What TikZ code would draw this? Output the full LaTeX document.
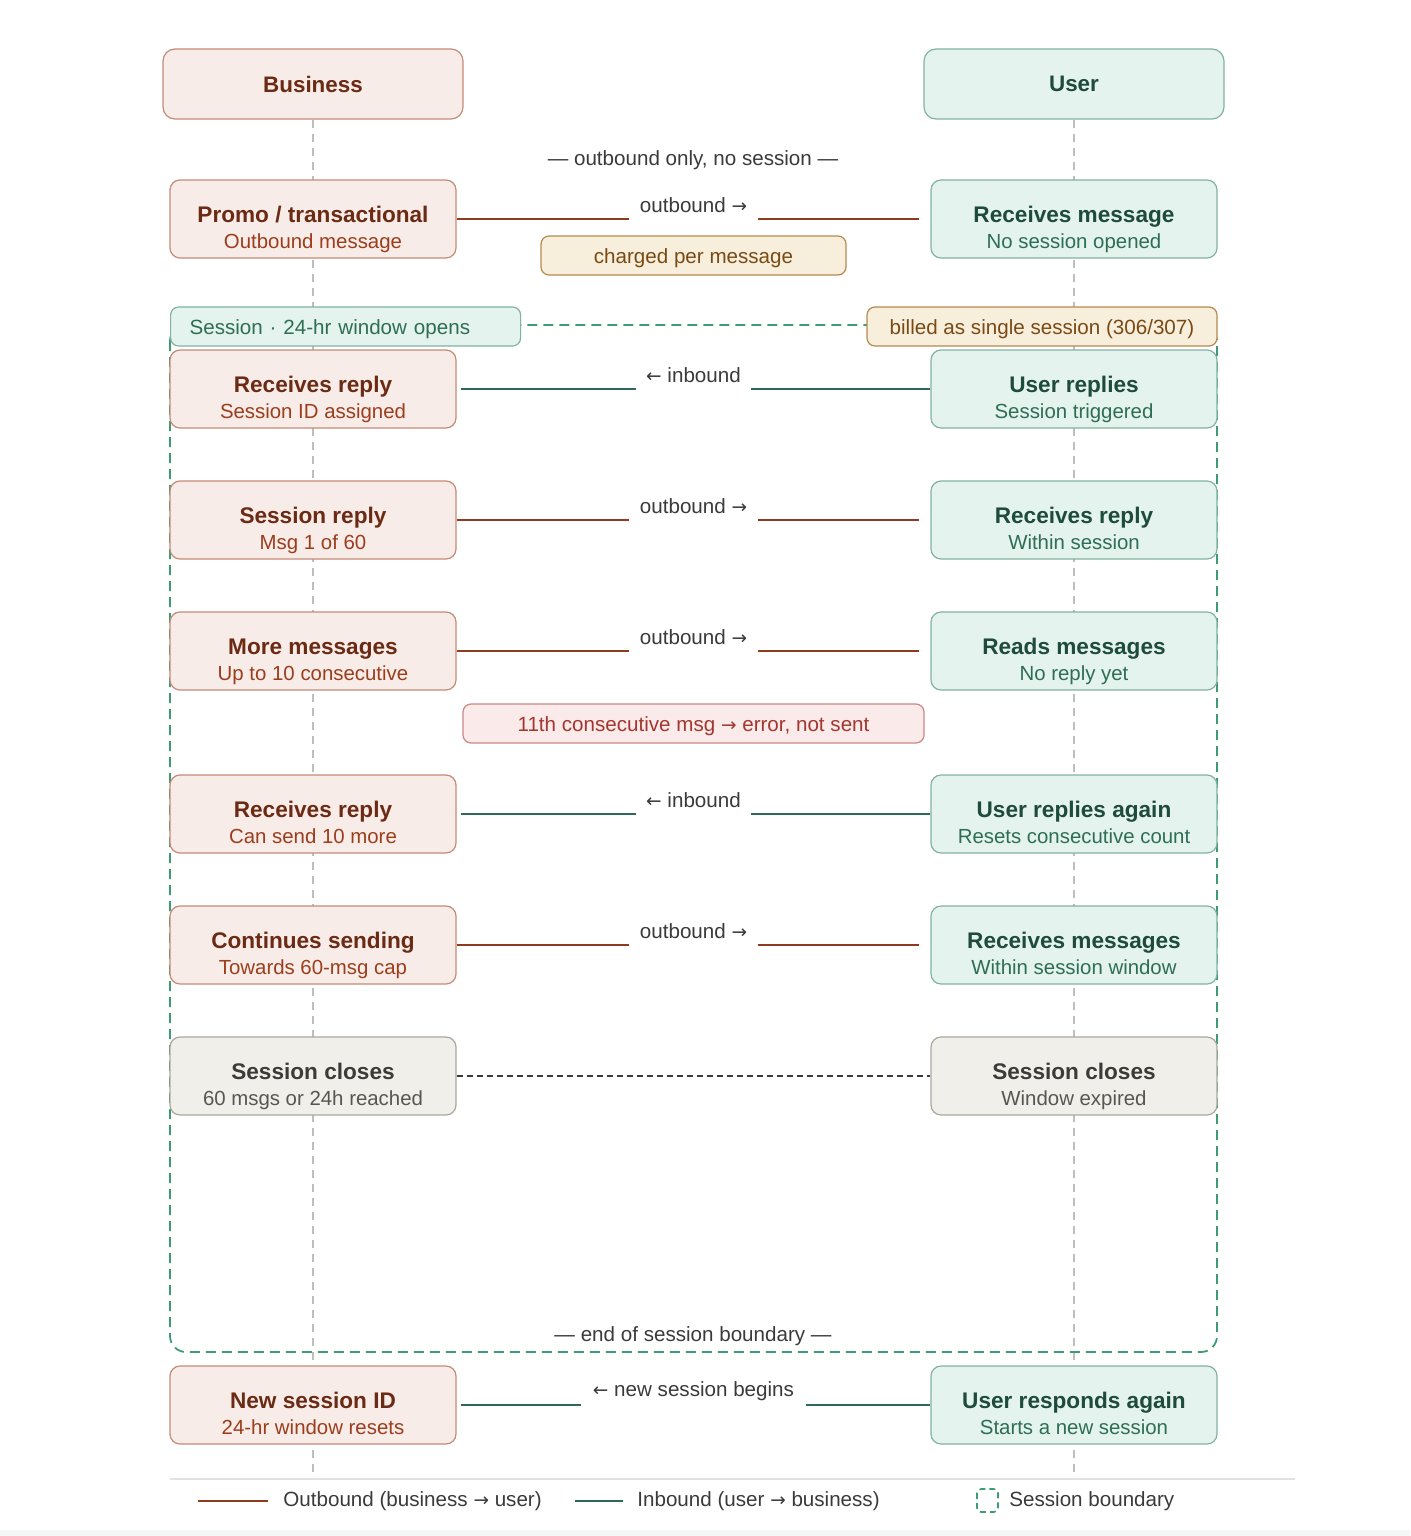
\documentclass[tikz,border=0pt]{standalone}
\usepackage{fontspec}
\setmainfont{Liberation Sans}
\newfontfamily\arrowfont{DejaVu Sans}
\usepackage{tikz}
\usetikzlibrary{positioning}

\definecolor{bizfill}{HTML}{F8ECE8}
\definecolor{bizline}{HTML}{C48B78}
\definecolor{biztitle}{HTML}{6B2A14}
\definecolor{bizsub}{HTML}{9C3D1C}
\definecolor{userfill}{HTML}{E4F3EE}
\definecolor{userline}{HTML}{82B3A0}
\definecolor{usertitle}{HTML}{1E4B3B}
\definecolor{usersub}{HTML}{2E6E55}
\definecolor{closefill}{HTML}{F0EFEA}
\definecolor{closeline}{HTML}{A9A79F}
\definecolor{closetitle}{HTML}{3B3B37}
\definecolor{closesub}{HTML}{57564F}
\definecolor{outcol}{HTML}{8E3B20}
\definecolor{incol}{HTML}{2F6A55}
\definecolor{sesscol}{HTML}{3F9B74}
\definecolor{creamfill}{HTML}{F8EEDC}
\definecolor{creamline}{HTML}{B58A4E}
\definecolor{creamtext}{HTML}{7A4A14}
\definecolor{errfill}{HTML}{FBEAEA}
\definecolor{errline}{HTML}{C98787}
\definecolor{errtext}{HTML}{A3362E}
\definecolor{labeltext}{HTML}{3A3A3A}
\definecolor{lifecol}{HTML}{BEBEBE}
\definecolor{rulecol}{HTML}{E2E2E2}
\definecolor{bandcol}{HTML}{F3F8F6}

% arrows in running text
\newcommand{\arrR}{{\arrowfont\scalebox{0.9}{→}}}
\newcommand{\arrL}{{\arrowfont\scalebox{0.9}{←}}}

\tikzstyle{headBox} = [rounded corners=6pt, minimum width=150pt, minimum height=35pt, line width=0.6pt, font=\fontsize{11.2}{13}\selectfont\bfseries]
\tikzstyle{bizHead} = [headBox, fill=bizfill, draw=bizline, text=biztitle]
\tikzstyle{userHead} = [headBox, fill=userfill, draw=userline, text=usertitle]
\tikzstyle{stepBox} = [rounded corners=5pt, minimum width=143pt, minimum height=39pt, line width=0.6pt]
\tikzstyle{bizStep} = [stepBox, fill=bizfill, draw=bizline]
\tikzstyle{userStep} = [stepBox, fill=userfill, draw=userline]
\tikzstyle{closeStep} = [stepBox, fill=closefill, draw=closeline]
\tikzstyle{titleText} = [anchor=base, inner sep=0pt, font=\fontsize{11.3}{13}\selectfont\bfseries]
\tikzstyle{subText} = [anchor=base, inner sep=0pt, font=\fontsize{10.2}{12}\selectfont]
\tikzstyle{noteBox} = [rounded corners=4pt, minimum height=19.5pt, line width=0.6pt, text height=9.5pt, text depth=2pt, font=\fontsize{10.3}{12}\selectfont]
\tikzstyle{plainLabel} = [text=labeltext, font=\fontsize{10.3}{12}\selectfont]
\tikzstyle{flowLabel} = [plainLabel, fill=white, inner xsep=5.25pt, inner ysep=4.5pt, yshift=6.75pt]
\tikzstyle{outArrow} = [line width=1.3pt, draw=outcol, shorten >=5.5pt]
\tikzstyle{inArrow} = [line width=1.3pt, draw=incol, shorten >=2pt]
\tikzstyle{closeLine} = [line width=0.6pt, draw=labeltext, dash pattern=on 3pt off 2pt]
\tikzstyle{lifeLine} = [draw=lifecol, line width=0.7pt, dash pattern=on 4pt off 3pt]
\tikzstyle{sessionLine} = [draw=sesscol, line width=0.9pt, dash pattern=on 5pt off 3pt]

% box with a bold title and a smaller second line
\newcommand{\flowstep}[5]{%
  \node[#1Step] (#2) at (#3) {};
  \node[titleText, text=#1title] (#2-t) at ([yshift=-1.5pt]#2.center) {#4};
  \node[subText, text=#1sub] (#2-s) at ([yshift=-14.5pt]#2.center) {#5};
}

\begin{document}
\begin{tikzpicture}[x=0.5pt, y=-0.5pt]
\useasboundingbox (0,0) rectangle (1410,1536);
\fill[bandcol] (0,1530) rectangle (1410,1536);

% lanes
\node (biz) [bizHead] at (313,84) {Business};
\node (user) [userHead] at (1074,84) {User};
\coordinate (bizEnd) at (313,1478);
\coordinate (userEnd) at (1074,1478);
\draw [lifeLine] (biz.south) -- (bizEnd);
\draw [lifeLine] (user.south) -- (userEnd);

% session window
\coordinate (sessTL) at (170,325);
\coordinate (sessBR) at (1217,1352);
\draw [sessionLine, rounded corners=8pt] (sessTL) rectangle (sessBR);

\node (noSession) [plainLabel] at (693,160) {— outbound only, no session —};

\flowstep{biz}{promo}{313,219}{Promo / transactional}{Outbound message}
\flowstep{user}{uReceives}{1074,219}{Receives message}{No session opened}
\draw [outArrow] (promo) -- node [flowLabel] {outbound \arrR} (uReceives);
\node (charged) [noteBox, fill=creamfill, draw=creamline, text=creamtext, minimum width=152.5pt] at (693.5,255.5) {charged per message};

\node (sessOpen) [noteBox, fill=userfill, draw=userline, text=usersub, anchor=west, text width=156pt, align=left, inner xsep=9.5pt] at (170,326.5) {Session · 24-hr window opens};
\node (billed) [noteBox, fill=creamfill, draw=creamline, text=creamtext, minimum width=175pt] at (1042,326.5) {billed as single session (306/307)};

\flowstep{biz}{bReply}{313,389}{Receives reply}{Session ID assigned}
\flowstep{user}{uReplies}{1074,389}{User replies}{Session triggered}
\draw [inArrow] (uReplies) -- node [flowLabel] {\arrL\ inbound} (bReply);

\flowstep{biz}{sReply}{313,520}{Session reply}{Msg 1 of 60}
\flowstep{user}{uWithin}{1074,520}{Receives reply}{Within session}
\draw [outArrow] (sReply) -- node [flowLabel] {outbound \arrR} (uWithin);

\flowstep{biz}{more}{313,651}{More messages}{Up to 10 consecutive}
\flowstep{user}{uReads}{1074,651}{Reads messages}{No reply yet}
\draw [outArrow] (more) -- node [flowLabel] {outbound \arrR} (uReads);
\node (error) [noteBox, fill=errfill, draw=errline, text=errtext, minimum width=230.5pt] at (693.5,723.5) {11th consecutive msg \arrR\ error, not sent};

\flowstep{biz}{bReply2}{313,814}{Receives reply}{Can send 10 more}
\flowstep{user}{uAgain}{1074,814}{User replies again}{Resets consecutive count}
\draw [inArrow] (uAgain) -- node [flowLabel] {\arrL\ inbound} (bReply2);

\flowstep{biz}{cont}{313,945}{Continues sending}{Towards 60-msg cap}
\flowstep{user}{uMsgs}{1074,945}{Receives messages}{Within session window}
\draw [outArrow] (cont) -- node [flowLabel] {outbound \arrR} (uMsgs);

\flowstep{close}{bClose}{313,1076}{Session closes}{60 msgs or 24h reached}
\flowstep{close}{uClose}{1074,1076}{Session closes}{Window expired}
\draw [closeLine] (bClose) -- (uClose);

\node (endSession) [plainLabel] at (693,1336) {— end of session boundary —};

\flowstep{biz}{newId}{313,1405}{New session ID}{24-hr window resets}
\flowstep{user}{uResp}{1074,1405}{User responds again}{Starts a new session}
\draw [inArrow] (uResp) -- node [flowLabel, inner xsep=6pt] {\arrL\ new session begins} (newId);

% legend
\draw [rulecol, line width=0.6pt] (170,1479) -- (1295,1479);
\draw [outcol, line width=1.3pt] (198,1501) -- (268,1501);
\node (legOut) [plainLabel, anchor=west, inner sep=0pt] at (283,1501) {Outbound (business \arrR\ user)};
\draw [incol, line width=1.3pt] (575,1501) -- (623,1501);
\node (legIn) [plainLabel, anchor=west, inner sep=0pt] at (637,1501) {Inbound (user \arrR\ business)};
\draw [sesscol, line width=0.8pt, dash pattern=on 3pt off 2pt, rounded corners=2pt] (977,1489) rectangle (998,1512);
\node (legSess) [plainLabel, anchor=west, inner sep=0pt] at (1009,1501) {Session boundary};
\end{tikzpicture}
\end{document}
